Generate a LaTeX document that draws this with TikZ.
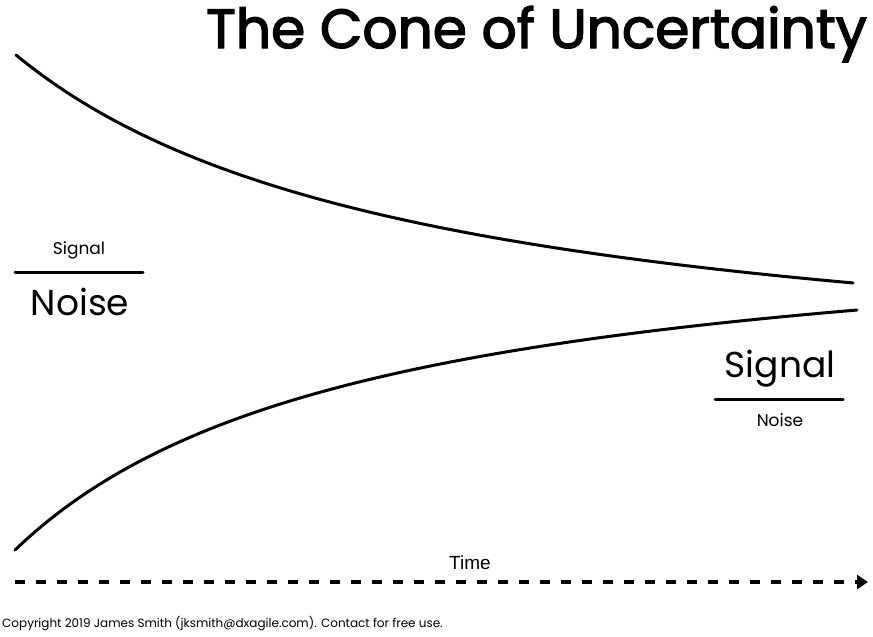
\documentclass[tikz,border=0pt]{standalone}
\usepackage{fontspec}
\setmainfont{Poppins}
\newfontfamily\titlefont[FakeBold=2.5]{Poppins}
\newfontfamily\arialf{Liberation Sans}
\usetikzlibrary{arrows.meta}
\begin{document}
\begin{tikzpicture}[x=1pt,y=-1pt,
  curve/.style={line width=3pt, line cap=round},
  fracbar/.style={line width=3pt, line cap=round},
  bigtxt/.style={anchor=base, inner sep=0pt, font=\fontsize{36}{36}\selectfont},
  smalltxt/.style={anchor=base, inner sep=0pt, font=\fontsize{17}{17}\selectfont}]
\useasboundingbox[fill=white] (0,0) rectangle (873,637);
\node[anchor=base east, inner sep=0pt, font=\titlefont\fontsize{55}{55}\selectfont] (title) at (867,48) {The Cone of Uncertainty};
% cone
\draw[curve] plot[domain=16:853, samples=120] (\x, {395.3 - 1403.55/((\x+396.4)/100)});
\draw[curve] plot[domain=15:857, samples=120] (\x, {209.1 + 1207.29/((\x+339.1)/100)});
% left fraction
\node[smalltxt] (sigL) at (79,254) {Signal};
\draw[fracbar] (15,272) -- (143,272);
\node[bigtxt] (noiseL) at (80,315) {Noise};
% right fraction
\node[bigtxt] (sigR) at (780,377) {Signal};
\draw[fracbar] (715,399) -- (843,399);
\node[smalltxt] (noiseR) at (780,426) {Noise};
% time axis
\node[anchor=base, inner sep=0pt, font=\arialf\fontsize{19}{19}\selectfont] (time) at (470,569) {Time};
\coordinate (t0) at (15,582);
\coordinate (t1) at (868,582);
\draw[line width=4pt, dash pattern=on 10pt off 11pt, -{Triangle[width=14pt,length=11pt]}] (t0) -- (t1);
\node[anchor=base west, inner sep=0pt, font=\fontsize{12}{12}\selectfont] (copy) at (2,627) {Copyright 2019 James Smith (jksmith@dxagile.com). Contact for free use.};
\end{tikzpicture}
\end{document}
